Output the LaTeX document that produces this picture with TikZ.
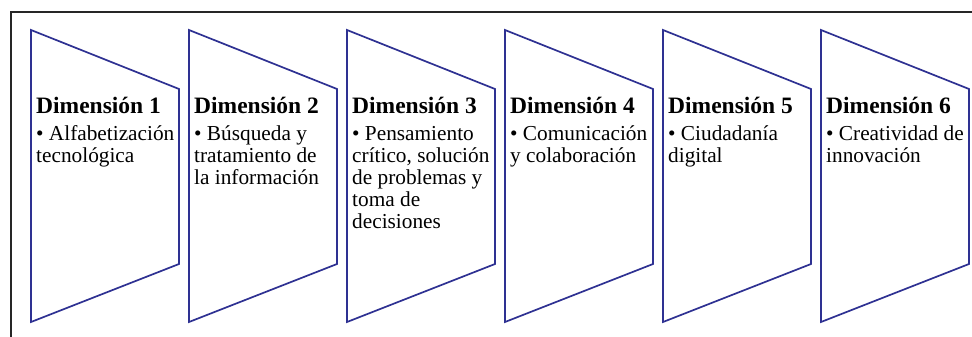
\documentclass[tikz,border=0pt]{standalone}
\usepackage{fontspec}
\setmainfont{Liberation Serif}
\begin{document}
\begin{tikzpicture}[x=1pt,y=-1pt,
  frame/.style={draw=black!85,line width=2.4pt},
  trap/.style={draw={rgb,255:red,46;green,49;blue,146},line width=1.7pt,line join=miter},
  ttl/.style={anchor=base west,inner sep=0pt,font=\fontsize{23.5}{26}\selectfont\bfseries},
  bdy/.style={anchor=base west,inner sep=0pt,font=\fontsize{21.3}{24}\selectfont}]
\useasboundingbox (0,0) rectangle (972,337);
\draw[frame] (11,337) -- (11,12) -- (972,12);
\foreach \i in {0,...,5}{
  \draw[trap] ({31+158*\i},30) -- ({179+158*\i},89) -- ({179+158*\i},264) -- ({31+158*\i},322) -- cycle;
}
% Dimension 1
\node[ttl] (t1) at (36,113) {Dimensión 1};
\node[bdy] (b1a) at (36,140) {• Alfabetización};
\node[bdy] (b1b) at (36,162) {tecnológica};
% Dimension 2
\node[ttl] (t2) at (194,113) {Dimensión 2};
\node[bdy] (b2a) at (194,140) {• Búsqueda y};
\node[bdy] (b2b) at (194,162) {tratamiento de};
\node[bdy] (b2c) at (194,184) {la información};
% Dimension 3
\node[ttl] (t3) at (352,113) {Dimensión 3};
\node[bdy] (b3a) at (352,140) {• Pensamiento};
\node[bdy] (b3b) at (352,162) {crítico, solución};
\node[bdy] (b3c) at (352,184) {de problemas y};
\node[bdy] (b3d) at (352,206) {toma de};
\node[bdy] (b3e) at (352,228) {decisiones};
% Dimension 4
\node[ttl] (t4) at (510,113) {Dimensión 4};
\node[bdy] (b4a) at (510,140) {• Comunicación};
\node[bdy] (b4b) at (510,162) {y colaboración};
% Dimension 5
\node[ttl] (t5) at (668,113) {Dimensión 5};
\node[bdy] (b5a) at (668,140) {• Ciudadanía};
\node[bdy] (b5b) at (668,162) {digital};
% Dimension 6
\node[ttl] (t6) at (826,113) {Dimensión 6};
\node[bdy] (b6a) at (826,140) {• Creatividad de};
\node[bdy] (b6b) at (826,162) {innovación};
\end{tikzpicture}
\end{document}
